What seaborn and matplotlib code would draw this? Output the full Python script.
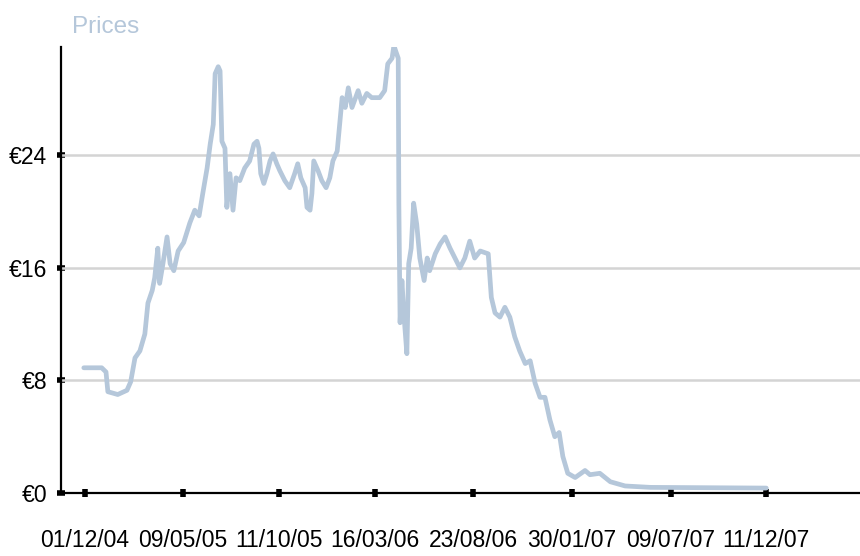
import matplotlib
matplotlib.use("Agg")
import matplotlib.pyplot as plt
import matplotlib.dates as mdates
import pandas as pd
import seaborn as sns

# price history
dates = [
    "2004-11-29", "2004-12-28", "2005-01-04", "2005-01-07", "2005-01-23", "2005-02-07",
    "2005-02-13", "2005-02-20", "2005-02-28", "2005-03-08", "2005-03-13", "2005-03-20",
    "2005-03-24", "2005-03-29", "2005-04-01", "2005-04-06", "2005-04-13", "2005-04-18",
    "2005-04-24", "2005-05-01", "2005-05-10", "2005-05-20", "2005-05-28", "2005-06-04",
    "2005-06-10", "2005-06-17", "2005-06-22", "2005-06-27", "2005-06-30", "2005-07-05",
    "2005-07-08", "2005-07-11", "2005-07-16", "2005-07-19", "2005-07-24", "2005-07-29",
    "2005-08-03", "2005-08-09", "2005-08-17", "2005-08-25", "2005-09-01", "2005-09-06",
    "2005-09-09", "2005-09-12", "2005-09-17", "2005-09-22", "2005-09-27", "2005-10-02",
    "2005-10-08", "2005-10-13", "2005-10-21", "2005-10-29", "2005-11-06", "2005-11-11",
    "2005-11-16", "2005-11-23", "2005-11-26", "2005-12-01", "2005-12-04", "2005-12-07",
    "2005-12-14", "2005-12-20", "2005-12-27", "2006-01-02", "2006-01-07", "2006-01-14",
    "2006-01-17", "2006-01-19", "2006-01-22", "2006-01-27", "2006-02-01", "2006-02-07",
    "2006-02-17", "2006-02-23", "2006-03-03", "2006-03-11", "2006-03-24", "2006-04-01",
    "2006-04-06", "2006-04-13", "2006-04-16", "2006-04-19", "2006-04-23", "2006-04-24",
    "2006-04-26", "2006-04-29", "2006-05-02", "2006-05-07", "2006-05-10", "2006-05-14",
    "2006-05-18", "2006-05-23", "2006-05-28", "2006-06-04", "2006-06-09", "2006-06-13",
    "2006-06-22", "2006-06-30", "2006-07-08", "2006-07-16", "2006-08-01", "2006-08-09",
    "2006-08-17", "2006-08-25", "2006-09-03", "2006-09-16", "2006-09-21", "2006-09-27",
    "2006-10-05", "2006-10-13", "2006-10-21", "2006-10-29", "2006-11-06", "2006-11-15",
    "2006-11-23", "2006-12-01", "2006-12-09", "2006-12-17", "2006-12-25", "2007-01-02",
    "2007-01-09", "2007-01-15", "2007-01-23", "2007-02-04", "2007-02-20", "2007-02-28",
    "2007-03-16", "2007-04-02", "2007-04-26", "2007-06-06", "2007-12-11",
]
prices = [
    8.9, 8.9, 8.6, 7.2, 7.0, 7.3,
    7.9, 9.6, 10.1, 11.3, 13.5, 14.4,
    15.3, 17.4, 14.9, 16.2, 18.2, 16.3,
    15.8, 17.2, 17.8, 19.2, 20.1, 19.7,
    21.3, 23.1, 24.8, 26.2, 29.8, 30.3,
    30.0, 25.0, 24.5, 20.3, 22.7, 20.1,
    22.4, 22.2, 23.1, 23.6, 24.8, 25.0,
    24.5, 22.7, 22.0, 22.7, 23.6, 24.1,
    23.4, 22.9, 22.2, 21.7, 22.7, 23.4,
    22.4, 21.7, 20.3, 20.1, 21.3, 23.6,
    22.9, 22.2, 21.7, 22.4, 23.6, 24.3,
    25.7, 26.7, 28.1, 27.4, 28.8, 27.4,
    28.6, 27.7, 28.4, 28.1, 28.1, 28.6,
    30.5, 30.9, 31.8, 31.4, 30.9, 20.6,
    12.1, 15.1, 12.8, 9.9, 16.3, 17.4,
    20.6, 19.1, 16.7, 15.1, 16.7, 15.8,
    17.0, 17.7, 18.2, 17.4, 16.0, 16.7,
    17.9, 16.7, 17.2, 17.0, 13.9, 12.8,
    12.5, 13.2, 12.5, 11.1, 10.1, 9.2,
    9.4, 7.8, 6.8, 6.8, 5.2, 4.0,
    4.3, 2.6, 1.4, 1.1, 1.6, 1.3,
    1.4, 0.8, 0.5, 0.4, 0.35,
]

tick_dates = ["2004-12-01", "2005-05-09", "2005-10-11", "2006-03-16",
              "2006-08-23", "2007-01-30", "2007-07-09", "2007-12-11"]
y_ticks = [0, 8, 16, 24]
y_labels = ["€0", "€8", "€16", "€24"]

df = pd.DataFrame({"date": pd.to_datetime(dates), "price": prices})

sns.set_style("white")
plt.rcParams["font.family"] = ["Liberation Sans", "DejaVu Sans"]

line_color = "#b5c7da"

fig = plt.figure(figsize=(8.6, 5.56), dpi=100)
ax = fig.add_axes([61 / 860, 63 / 556, 1 - 61 / 860, 446 / 556])

sns.lineplot(data=df, x="date", y="price", color=line_color, linewidth=3.4, ax=ax, zorder=3)

ax.set_ylim(0, 31.7)
ax.set_xlim(pd.Timestamp("2004-10-23"), pd.Timestamp("2008-05-11"))
ax.set_yticks(y_ticks)
ax.set_yticklabels(y_labels)
ax.set_xticks(pd.to_datetime(tick_dates))
ax.xaxis.set_major_formatter(mdates.DateFormatter("%d/%m/%y"))

for v in y_ticks[1:]:
    ax.axhline(v, color="#d4d4d4", linewidth=1.8, zorder=1)

for side in ["top", "right"]:
    ax.spines[side].set_visible(False)
for side in ["left", "bottom"]:
    ax.spines[side].set_color("black")
    ax.spines[side].set_linewidth(1.6)

ax.tick_params(axis="both", bottom=True, left=True, direction="inout", length=6, width=4,
               color="black", labelsize=16.5, labelcolor="black")
ax.tick_params(axis="x", pad=23)
ax.tick_params(axis="y", pad=7)
ax.set_xlabel("")
ax.set_ylabel("")

fig.text(72 / 860, 1 - 33 / 556, "Prices", color=line_color, fontsize=17.5, va="baseline")

fig.savefig("out.png", dpi=100)
